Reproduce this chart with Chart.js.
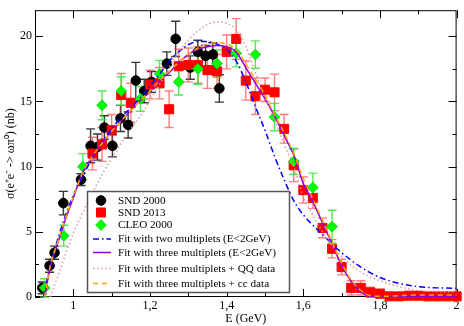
<!DOCTYPE html>
<html>
<head>
<meta charset="utf-8">
<script src="https://cdn.jsdelivr.net/npm/chart.js@4.4.1/dist/chart.umd.min.js"></script>
<style>
  html, body { margin: 0; padding: 0; background: #fff; }
  #wrap { width: 464px; height: 326px; }
</style>
</head>
<body>
<div id="wrap"><canvas id="chart" width="464" height="326"></canvas></div>
<script>
// --- measured data (E in GeV, sigma in nb) ---
const snd2000E     = [0.919, 0.938, 0.951, 0.974, 1.020, 1.045, 1.063, 1.081, 1.102, 1.123, 1.143, 1.163, 1.185, 1.204, 1.244, 1.267, 1.305, 1.325, 1.345, 1.364, 1.381];
const snd2000Sigma = [0.7, 2.4, 3.4, 7.2, 9.0, 11.6, 11.5, 13.0, 11.6, 13.7, 13.2, 16.6, 15.8, 16.5, 17.9, 19.8, 17.6, 18.8, 18.5, 18.6, 16.0];
const snd2000Err   = [0.45, 0.5, 0.5, 0.9, 0.45, 1.3, 1.0, 0.9, 0.85, 1.0, 1.0, 1.4, 0.9, 0.8, 0.9, 1.35, 0.9, 0.9, 0.8, 0.9, 1.05];

const snd2013E     = [1.05, 1.075, 1.1, 1.125, 1.15, 1.2, 1.225, 1.25, 1.275, 1.3, 1.325, 1.35, 1.375, 1.4, 1.425, 1.45, 1.475, 1.5, 1.525, 1.55, 1.575, 1.6, 1.625, 1.65, 1.675, 1.7, 1.725, 1.75, 1.775, 1.8, 1.825, 1.85, 1.875, 1.9, 1.925, 1.95, 1.975, 2.0];
const snd2013Sigma = [11.0, 11.7, 12.8, 15.5, 14.9, 16.3, 16.4, 14.4, 17.7, 17.8, 17.8, 17.4, 17.3, 18.8, 19.8, 16.6, 15.4, 15.9, 15.7, 12.9, 10.1, 8.2, 7.6, 5.3, 3.7, 2.3, 0.7, 0.7, 0.35, 0.25, 0.05, 0.05, 0.1, 0.1, 0.05, 0.05, 0.05, 0.05];
const snd2013Err   = [1.25, 1.3, 1.2, 1.65, 1.5, 1.1, 1.2, 1.4, 1.3, 1.3, 1.4, 1.4, 1.3, 1.3, 1.55, 1.5, 1.4, 0.9, 1.4, 1.1, 1.25, 1.0, 0.8, 0.75, 0.7, 0.6, 0.55, 0.55, 0.4, 0.35, 0.25, 0.2, 0.25, 0.3, 0.25, 0.2, 0.25, 0.2];

const cleoE     = [0.925, 0.975, 1.025, 1.075, 1.125, 1.175, 1.225, 1.275, 1.325, 1.375, 1.425, 1.475, 1.525, 1.575, 1.625, 1.675];
const cleoSigma = [0.7, 4.7, 10.0, 14.7, 15.8, 15.2, 17.1, 16.5, 17.5, 17.9, 18.7, 18.6, 13.8, 10.4, 8.4, 5.4];
const cleoErr   = [0.7, 0.8, 1.0, 1.1, 1.1, 0.95, 1.05, 1.0, 1.2, 1.05, 1.05, 1.05, 1.05, 1.0, 1.1, 1.25];

// --- fit curves ---
const fitTwoE     = [0.922, 0.94, 0.96, 0.98, 1.0, 1.025, 1.05, 1.075, 1.1, 1.125, 1.15, 1.175, 1.2, 1.225, 1.25, 1.275, 1.3, 1.325, 1.35, 1.375, 1.4, 1.425, 1.45, 1.475, 1.5, 1.525, 1.55, 1.575, 1.6, 1.65, 1.7, 1.75, 1.8, 1.85, 1.9, 1.95, 2.0];
const fitTwoSigma = [0, 2.4, 4.5, 6.3, 7.8, 9.3, 10.7, 11.9, 12.9, 13.8, 14.5, 15.3, 16.2, 17.1, 18.1, 18.8, 19.35, 19.6, 19.6, 19.4, 19.0, 18.1, 16.5, 14.6, 12.8, 10.8, 9.0, 7.4, 6.3, 4.8, 3.4, 2.3, 1.5, 1.05, 0.8, 0.7, 0.67];

const fitThreeE     = [0.925, 0.94, 0.96, 0.98, 1.0, 1.025, 1.05, 1.075, 1.1, 1.125, 1.15, 1.175, 1.2, 1.225, 1.25, 1.275, 1.3, 1.325, 1.35, 1.375, 1.4, 1.425, 1.45, 1.475, 1.5, 1.525, 1.55, 1.575, 1.6, 1.625, 1.65, 1.675, 1.7, 1.725, 1.75, 1.775, 1.8, 1.85, 1.9, 1.95, 2.0];
const fitThreeSigma = [0, 2.3, 4.2, 6.0, 7.6, 9.6, 10.8, 11.8, 12.7, 13.5, 14.3, 15.1, 15.8, 16.6, 17.2, 18.0, 18.6, 19.0, 19.2, 19.3, 19.2, 18.8, 17.6, 16.4, 15.2, 13.9, 12.4, 10.9, 8.7, 7.3, 5.7, 4.1, 2.4, 1.2, 0.4, 0.05, 0, 0.02, 0.05, 0.05, 0.05];

const fitQQE     = [0.94, 0.96, 0.98, 1.0, 1.025, 1.05, 1.075, 1.1, 1.125, 1.15, 1.175, 1.2, 1.225, 1.25, 1.275, 1.3, 1.325, 1.35, 1.375, 1.4, 1.425, 1.45, 1.475, 1.5, 1.525, 1.55, 1.575, 1.6, 1.625, 1.65, 1.7, 1.75, 1.8, 1.85, 1.9, 1.95, 2.0];
const fitQQSigma = [0, 1.6, 3.3, 4.9, 6.5, 8.0, 9.4, 10.6, 11.8, 12.9, 13.9, 15.1, 16.3, 17.6, 18.8, 19.7, 20.4, 20.9, 21.1, 21.0, 20.5, 19.2, 17.2, 15.3, 13.6, 11.7, 10.0, 7.7, 6.3, 5.0, 3.1, 1.9, 1.25, 0.8, 0.5, 0.42, 0.4];

const fitCCE     = [0.925, 0.94, 0.96, 0.98, 1.0, 1.025, 1.05, 1.075, 1.1, 1.125, 1.15, 1.175, 1.2, 1.225, 1.25, 1.275, 1.3, 1.325, 1.35, 1.375, 1.4, 1.425, 1.45, 1.475, 1.5, 1.525, 1.55, 1.575, 1.6, 1.625, 1.65, 1.675, 1.7, 1.725, 1.75, 1.775, 1.8, 1.85, 1.9, 1.95, 2.0];
const fitCCSigma = [0, 2.4, 4.3, 6.1, 7.7, 9.6, 10.8, 11.8, 12.7, 13.5, 14.3, 15.1, 15.8, 16.6, 17.3, 18.0, 18.6, 19.1, 19.4, 19.5, 19.4, 19.0, 17.9, 16.7, 15.5, 14.0, 12.6, 11.0, 9.1, 7.5, 5.9, 4.2, 2.6, 1.3, 0.5, 0.1, 0.05, 0.1, 0.15, 0.15, 0.15];

// --- axes ---
const xMajorTicks = [1, 1.2, 1.4, 1.6, 1.8, 2];
const xTickLabels = ['1', '1,2', '1,4', '1,6', '1,8', '2'];
const xMinorTicks = [0.9, 1.1, 1.3, 1.5, 1.7, 1.9];
const yMajorTicks = [0, 5, 10, 15, 20];
const yTickLabels = ['0', '5', '10', '15', '20'];
const yMinorTicks = [2.5, 7.5, 12.5, 17.5];

const legendLabels = [
  'SND 2000',
  'SND 2013',
  'CLEO 2000',
  'Fit with two multiplets (E<2GeV)',
  'Fit with three multiplets (E<2GeV)',
  'Fit with three multiplets + QQ data',
  'Fit with three multiplets + cc data'
];

const FONT = "'Liberation Serif', 'Times New Roman', serif";
const toPts = (xs, ys) => xs.map((x, i) => ({ x: x, y: ys[i] }));

// error bars for the three measured series
const errorBarPlugin = {
  id: 'errorBars',
  beforeDatasetsDraw(chart) {
    const { ctx, scales: { x, y } } = chart;
    const sets = [
      [snd2000E, snd2000Sigma, snd2000Err, 'rgba(20,20,20,0.85)'],
      [snd2013E, snd2013Sigma, snd2013Err, 'rgba(255,70,70,0.7)'],
      [cleoE, cleoSigma, cleoErr, 'rgba(40,230,40,0.8)']
    ];
    ctx.save();
    ctx.lineWidth = 1.4;
    sets.forEach(([es, ss, errs, col]) => {
      ctx.strokeStyle = col;
      es.forEach((e, i) => {
        const px = x.getPixelForValue(e);
        const top = y.getPixelForValue(ss[i] + errs[i]);
        const bot = y.getPixelForValue(Math.max(0, ss[i] - errs[i]));
        ctx.beginPath();
        ctx.moveTo(px, top); ctx.lineTo(px, bot);
        ctx.moveTo(px - 4.5, top); ctx.lineTo(px + 4.5, top);
        ctx.moveTo(px - 4.5, bot); ctx.lineTo(px + 4.5, bot);
        ctx.stroke();
      });
    });
    ctx.restore();
  }
};

// frame with inward ticks on all four sides
const framePlugin = {
  id: 'frame',
  beforeDatasetsDraw(chart) {
    const { ctx, chartArea: a, scales: { x, y } } = chart;
    ctx.save();
    ctx.strokeStyle = '#000';
    ctx.lineWidth = 1;
    ctx.strokeRect(a.left + 0.5, a.top + 0.5, a.right - a.left - 1, a.bottom - a.top - 1);
    ctx.beginPath();
    const xt = (v, len) => {
      const px = Math.round(x.getPixelForValue(v)) + 0.5;
      ctx.moveTo(px, a.bottom); ctx.lineTo(px, a.bottom - len);
      ctx.moveTo(px, a.top); ctx.lineTo(px, a.top + len);
    };
    const yt = (v, len) => {
      const py = Math.round(y.getPixelForValue(v)) + 0.5;
      ctx.moveTo(a.left, py); ctx.lineTo(a.left + len, py);
      ctx.moveTo(a.right, py); ctx.lineTo(a.right - len, py);
    };
    xMajorTicks.forEach(v => xt(v, 8));
    xMinorTicks.forEach(v => xt(v, 4));
    yMajorTicks.forEach(v => yt(v, 8));
    yMinorTicks.forEach(v => yt(v, 4));
    ctx.stroke();
    ctx.restore();
  }
};

// boxed legend inside the plot
const boxLegendPlugin = {
  id: 'boxLegend',
  afterDraw(chart) {
    const { ctx } = chart;
    const rowsY = [200.5, 212.5, 225, 239, 252.5, 268.5, 283.5];
    ctx.save();
    ctx.fillStyle = '#fff';
    ctx.fillRect(87, 191, 203, 102);
    ctx.strokeStyle = '#555';
    ctx.lineWidth = 1.5;
    ctx.strokeRect(87.5, 191.5, 202, 101);
    chart.data.datasets.forEach((ds, i) => {
      const yy = rowsY[i];
      ctx.save();
      if (ds.showLine) {
        ctx.strokeStyle = ds.borderColor;
        ctx.lineWidth = ds.borderWidth;
        ctx.setLineDash(ds.borderDash || []);
        ctx.beginPath();
        ctx.moveTo(93, yy); ctx.lineTo(111, yy);
        ctx.stroke();
      } else {
        ctx.fillStyle = ds.backgroundColor;
        ctx.strokeStyle = ds.borderColor;
        ctx.lineWidth = 1;
        Chart.helpers.drawPoint(ctx, {
          pointStyle: ds.pointStyle, radius: ds.pointRadius, borderWidth: 1, rotation: 0
        }, 101, yy);
      }
      ctx.restore();
      ctx.fillStyle = '#000';
      ctx.font = '11.2px ' + FONT;
      ctx.textBaseline = 'middle';
      ctx.textAlign = 'left';
      ctx.fillText(legendLabels[i], 118, yy + 0.5);
    });
    ctx.restore();
  }
};

const markerSet = (label, xs, ys, style, r, fill, border, order) => ({
  label, data: toPts(xs, ys), showLine: false, pointStyle: style,
  pointRadius: r, pointHoverRadius: r, backgroundColor: fill, borderColor: border,
  borderWidth: 1, order, clip: false
});
const lineSet = (label, xs, ys, color, dash, order) => ({
  label, data: toPts(xs, ys), showLine: true, pointRadius: 0, borderColor: color,
  backgroundColor: color, borderWidth: 1.5, borderDash: dash, fill: false,
  cubicInterpolationMode: 'monotone', order
});

new Chart(document.getElementById('chart'), {
  type: 'scatter',
  data: {
    datasets: [
      markerSet(legendLabels[0], snd2000E, snd2000Sigma, 'circle', 4.8, '#000', '#000', 7),
      markerSet(legendLabels[1], snd2013E, snd2013Sigma, 'rect', 6.4, '#ff0000', '#ff0000', 6),
      markerSet(legendLabels[2], cleoE, cleoSigma, 'rectRot', 5.3, '#00ff00', '#00dd00', 5),
      lineSet(legendLabels[3], fitTwoE, fitTwoSigma, '#0000ff', [6, 3, 1.5, 3], 4),
      lineSet(legendLabels[4], fitThreeE, fitThreeSigma, '#9400d3', [], 3),
      lineSet(legendLabels[5], fitQQE, fitQQSigma, '#d89a9a', [1.5, 2.5], 2),
      lineSet(legendLabels[6], fitCCE, fitCCSigma, '#ffa500', [5, 4], 1)
    ]
  },
  options: {
    responsive: false,
    animation: false,
    devicePixelRatio: 1,
    layout: { padding: { top: 1, right: 5, left: 0, bottom: 0 } },
    plugins: { legend: { display: false }, tooltip: { enabled: false } },
    scales: {
      x: {
        type: 'linear', min: 0.9, max: 2.0,
        grid: { display: false, drawTicks: false },
        border: { display: false },
        afterBuildTicks: s => { s.ticks = xMajorTicks.map(v => ({ value: v })); },
        afterFit: s => { s.height = 29; },
        ticks: {
          color: '#000', padding: 2, maxRotation: 0, autoSkip: false,
          font: { family: FONT, size: 12 },
          callback: (v) => xTickLabels[xMajorTicks.indexOf(v)]
        },
        title: { display: true, text: 'E (GeV)', color: '#000', padding: { top: 0, bottom: 0 },
                 font: { family: FONT, size: 12 } }
      },
      y: {
        type: 'linear', min: 0, max: 22,
        grid: { display: false, drawTicks: false },
        border: { display: false },
        afterBuildTicks: s => { s.ticks = yMajorTicks.map(v => ({ value: v })); },
        afterFit: s => { s.width = 35; },
        ticks: {
          color: '#000', padding: 3, autoSkip: false,
          font: { family: FONT, size: 12 },
          callback: (v) => yTickLabels[yMajorTicks.indexOf(v)]
        },
        title: { display: true, text: 'σ(e⁺e⁻ -> ωπ⁰) (nb)', color: '#000', padding: { top: 4, bottom: 0 },
                 font: { family: FONT, size: 12 } }
      }
    }
  },
  plugins: [framePlugin, errorBarPlugin, boxLegendPlugin]
});
</script>
</body>
</html>
